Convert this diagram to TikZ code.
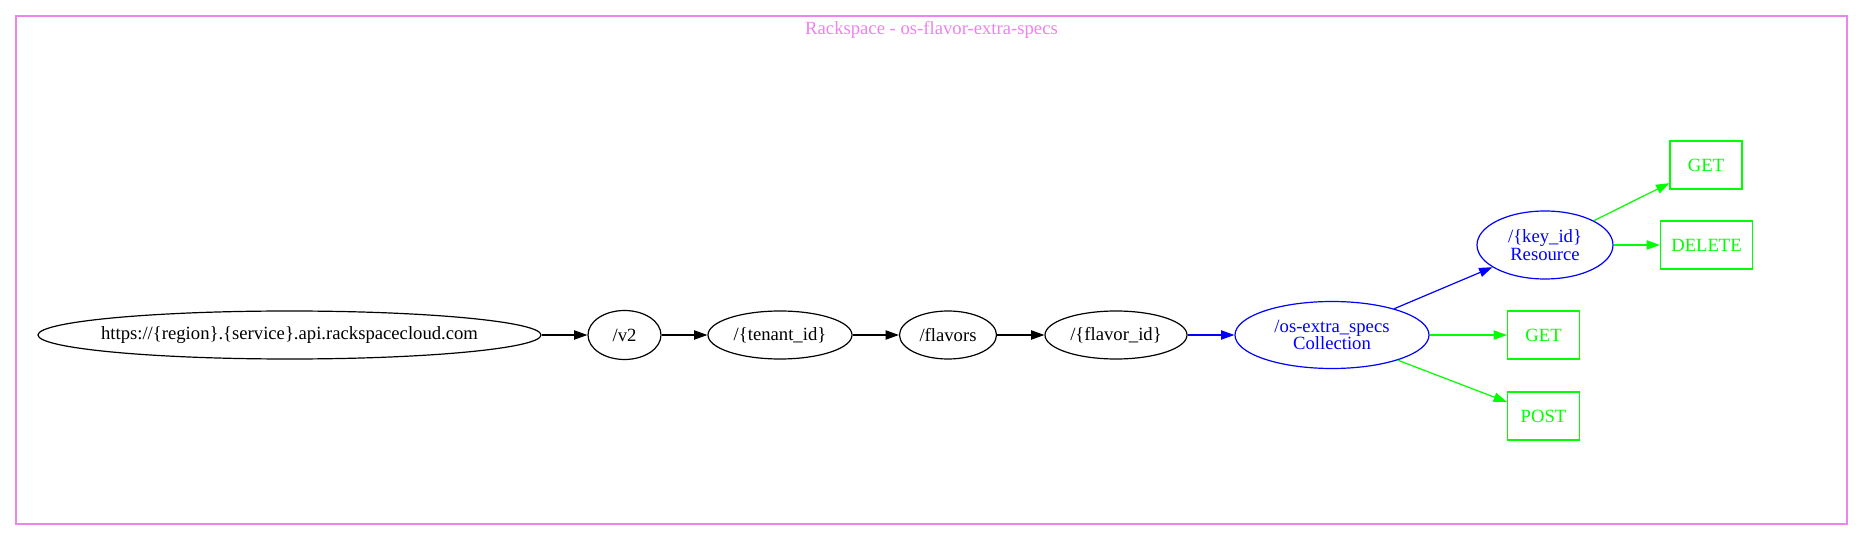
\documentclass[tikz,border=0pt]{standalone}
\usepackage{fontspec}
\setmainfont{Liberation Serif}
\usetikzlibrary{shapes.geometric,arrows.meta}
\definecolor{gvviolet}{HTML}{EE82EE}
\definecolor{gvblue}{HTML}{0000FF}
\definecolor{gvgreen}{HTML}{00FF00}
\tikzset{
  ell/.style={draw, ellipse, inner sep=0pt, line width=0.9pt, font=\fontsize{14}{13.3}\selectfont, align=center},
  bx/.style={draw=gvgreen, rectangle, inner sep=0pt, line width=0.9pt, text=gvgreen, font=\fontsize{14}{16}\selectfont, minimum width=54pt, minimum height=36pt},
  edge/.style={line width=0.9pt, -{Triangle[length=10pt,width=7pt]}},
}
\begin{document}
\begin{tikzpicture}[x=0.75pt,y=-0.75pt]
\useasboundingbox (0,0) rectangle (1863,541);
\node[draw=gvviolet, line width=0.9pt, rectangle, inner sep=0pt, minimum width=1373.25pt, minimum height=381pt] (frame) at (931.5,270) {};
\node[text=gvviolet, font=\fontsize{14}{16}\selectfont] (title) at (931.5,30) {Rackspace - os-flavor-extra-specs};
\node[ell, minimum width=377.25pt, minimum height=36pt] (url) at (289.5,335) {\makebox[0pt]{https://\{region\}.\{service\}.api.rackspacecloud.com}};
\node[ell, minimum width=54.75pt, minimum height=36.75pt] (v2) at (624.5,335) {\makebox[0pt]{/v2}};
\node[ell, minimum width=108pt, minimum height=36pt] (tenant) at (780,335) {\makebox[0pt]{/\{tenant\_id\}}};
\node[ell, minimum width=72.75pt, minimum height=36pt] (flavors) at (948,335) {\makebox[0pt]{/flavors}};
\node[ell, minimum width=106.5pt, minimum height=36pt] (flavorid) at (1116,335) {\makebox[0pt]{/\{flavor\_id\}}};
\node[ell, draw=gvblue, text=gvblue, minimum width=145.5pt, minimum height=50.25pt] (coll) at (1332,335) {/os-extra\_specs\\Collection};
\node[ell, draw=gvblue, text=gvblue, minimum width=102pt, minimum height=51pt] (res) at (1545,245) {/\{key\_id\}\\Resource};
\node[bx] (get1) at (1706,165) {GET};
\node[bx, minimum width=69pt] (del) at (1706.5,245) {DELETE};
\node[bx] (get2) at (1543.5,335) {GET};
\node[bx] (post) at (1543.5,416) {POST};
\draw[edge] (url) -- (v2);
\draw[edge] (v2) -- (tenant);
\draw[edge] (tenant) -- (flavors);
\draw[edge] (flavors) -- (flavorid);
\draw[edge, draw=gvblue, fill=gvblue] (flavorid) -- (coll);
\draw[edge, draw=gvblue, fill=gvblue] (coll) -- (res);
\draw[edge, draw=gvgreen, fill=gvgreen] (coll) -- (get2);
\draw[edge, draw=gvgreen, fill=gvgreen] (coll) -- (post);
\draw[edge, draw=gvgreen, fill=gvgreen] (res) -- (get1);
\draw[edge, draw=gvgreen, fill=gvgreen] (res) -- (del);
\end{tikzpicture}
\end{document}
